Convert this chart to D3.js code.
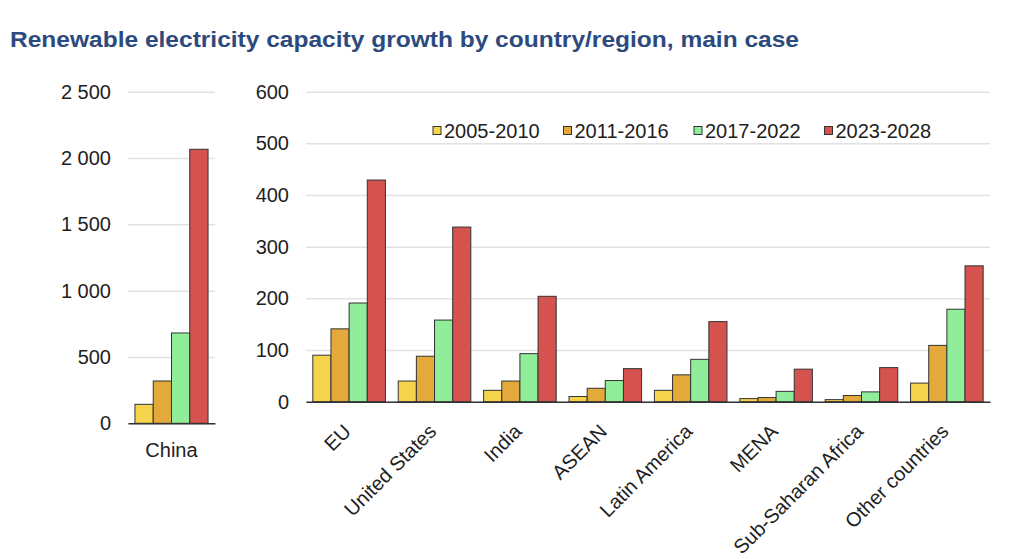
<!DOCTYPE html>
<html>
<head>
<meta charset="utf-8">
<script src="https://cdn.jsdelivr.net/npm/d3@7/dist/d3.min.js"></script>
<style>
  html, body { margin: 0; padding: 0; background: #fff; }
  svg { display: block; font-family: "Liberation Sans", Arial, sans-serif; }
</style>
</head>
<body>
<svg id="chart" width="1024" height="559"></svg>
<script>
// ---- Data ----
const series = ["2005-2010", "2011-2016", "2017-2022", "2023-2028"];
const chinaCategory = ["China"];
const chinaValues = [143, 319, 681, 2066];
const categories = ["EU", "United States", "India", "ASEAN", "Latin America", "MENA", "Sub-Saharan Africa", "Other countries"];
const s2005_2010 = [90, 40, 22, 10, 22, 6, 4, 36];
const s2011_2016 = [141, 88, 40, 26, 52, 8, 12, 109];
const s2017_2022 = [191, 158, 93, 41, 82, 20, 19, 179];
const s2023_2028 = [429, 338, 204, 64, 155, 63, 66, 263];
const chinaTicks = [0, 500, 1000, 1500, 2000, 2500];
const mainTicks = [0, 100, 200, 300, 400, 500, 600];
const titleText = "Renewable electricity capacity growth by country/region, main case";

const colors = ["#F6D44B", "#E3A93B", "#90EE9A", "#D5534F"];
const mainSeries = [s2005_2010, s2011_2016, s2017_2022, s2023_2028];

const svg = d3.select("#chart");
svg.append("rect").attr("width", 1024).attr("height", 559).attr("fill", "#fff");

const loc = d3.formatLocale({decimal: ".", thousands: " ", grouping: [3], currency: ["", ""]});
const fmt = loc.format(",");

// Title
svg.append("text")
  .attr("x", 10).attr("y", 47)
  .attr("font-size", 22).attr("font-weight", "bold")
  .attr("fill", "#2D4A7E")
  .attr("textLength", 789).attr("lengthAdjust", "spacingAndGlyphs")
  .text(titleText);

function drawPanel(opts) {
  const {x0, x1, yBase, yTop, max, ticks, cats, data, labelMode} = opts;
  const y = d3.scaleLinear().domain([0, max]).range([yBase, yTop]);
  const x = d3.scaleBand().domain(cats).range([x0, x1]).paddingInner(opts.pi).paddingOuter(opts.po);
  const xs = d3.scaleBand().domain(series).range([0, x.bandwidth()]).padding(0);
  const g = svg.append("g");

  // grid
  const grid = d3.axisLeft(y).tickValues(ticks).tickSize(-(x1 - x0)).tickFormat("");
  g.append("g").attr("transform", `translate(${x0},0)`).call(grid)
    .call(s => s.select(".domain").remove())
    .call(s => s.selectAll("line").attr("stroke", "#e2e2e2").attr("stroke-width", 1.5));

  // y labels
  const yAxis = d3.axisLeft(y).tickValues(ticks).tickSize(0).tickPadding(0).tickFormat(fmt);
  g.append("g").attr("transform", `translate(${opts.labelRight},0)`).call(yAxis)
    .call(s => s.select(".domain").remove())
    .call(s => s.selectAll("text").attr("font-size", 20).attr("fill", "#1e1e1e")
      .attr("font-family", "Liberation Sans, Arial, sans-serif"));

  // bars
  cats.forEach((c, ci) => {
    series.forEach((sName, si) => {
      const v = data[si][ci];
      g.append("rect")
        .attr("x", x(c) + xs(sName))
        .attr("y", y(v))
        .attr("width", xs.bandwidth())
        .attr("height", y(0) - y(v))
        .attr("fill", colors[si])
        .attr("stroke", "#333")
        .attr("stroke-width", 1);
    });
  });

  // baseline
  const xAxis = d3.axisBottom(x).tickSize(0).tickFormat("");
  g.append("g").attr("transform", `translate(0,${yBase})`).call(xAxis)
    .call(s => s.select(".domain").attr("stroke", "#333").attr("stroke-width", 1.5));

  // category labels
  cats.forEach(c => {
    const cx = x(c) + x.bandwidth() / 2;
    if (labelMode === "flat") {
      g.append("text").attr("x", cx).attr("y", yBase + 34)
        .attr("text-anchor", "middle").attr("font-size", 20).attr("fill", "#1e1e1e").text(c);
    } else {
      g.append("text")
        .attr("transform", `translate(${cx + 3},${yBase + 31}) rotate(-45)`)
        .attr("text-anchor", "end").attr("font-size", 20).attr("fill", "#1e1e1e").text(c);
    }
  });
  return {x, y};
}

// China panel
drawPanel({
  x0: 128, x1: 215, yBase: 423.3, yTop: 91.7, max: 2500, ticks: chinaTicks,
  cats: chinaCategory, data: chinaValues.map(v => [v]), labelMode: "flat",
  pi: 0.16, po: 0.08, labelRight: 111
});

// Main panel
drawPanel({
  x0: 306, x1: 990, yBase: 401.7, yTop: 91.7, max: 600, ticks: mainTicks,
  cats: categories, data: mainSeries, labelMode: "rot",
  pi: 0.15, po: 0.08, labelRight: 289
});

// Legend
const leg = svg.append("g");
series.forEach((s, i) => {
  const lx = 433 + i * 130.5;
  leg.append("rect").attr("x", lx).attr("y", 126.5).attr("width", 8).attr("height", 8)
    .attr("fill", colors[i]).attr("stroke", "#333").attr("stroke-width", 1);
  leg.append("text").attr("x", lx + 11).attr("y", 137.5)
    .attr("font-size", 20).attr("fill", "#1e1e1e").text(s);
});
</script>
</body>
</html>
